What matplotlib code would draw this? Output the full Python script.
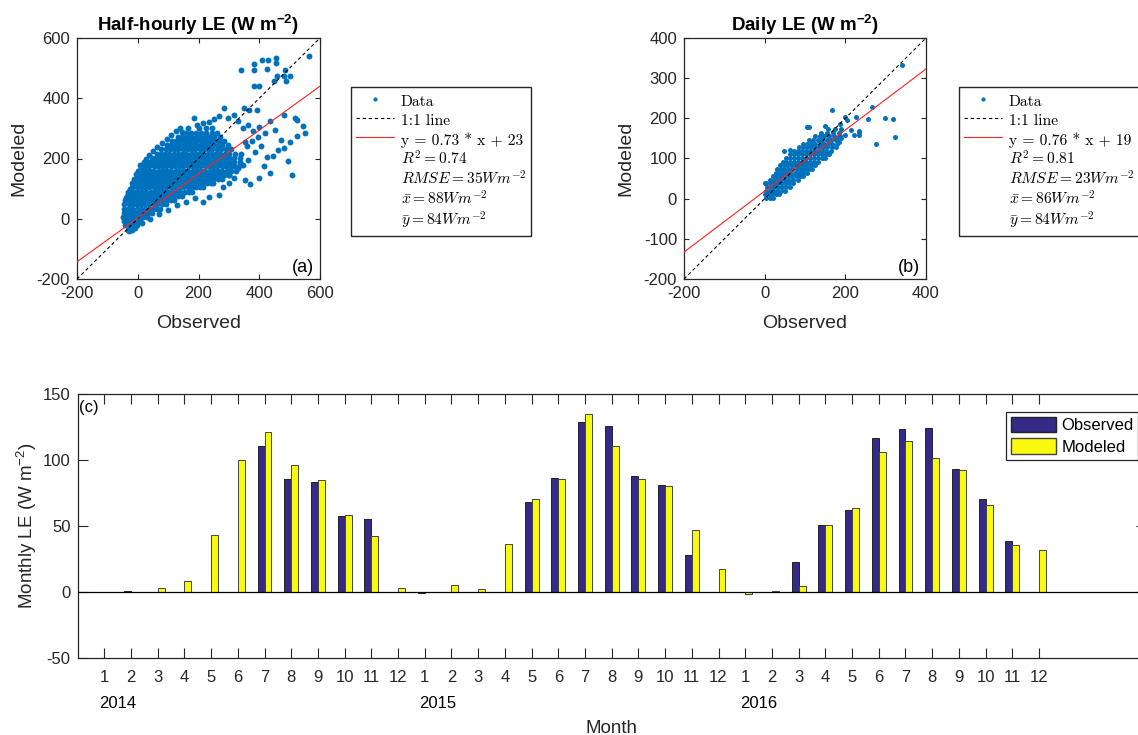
import numpy as np
import matplotlib as mpl

mpl.use("Agg")
import matplotlib.pyplot as plt
from matplotlib.lines import Line2D
from matplotlib.patches import Patch
from matplotlib.transforms import blended_transform_factory

INK = "#262626"
mpl.rcParams.update(
    {
        "font.family": ["Liberation Sans", "DejaVu Sans"],
        "mathtext.fontset": "custom",
        "mathtext.rm": "Liberation Sans",
        "mathtext.it": "Liberation Sans:italic",
        "mathtext.bf": "Liberation Sans:bold",
        "axes.unicode_minus": False,
        "axes.edgecolor": INK,
        "axes.labelcolor": INK,
        "xtick.color": INK,
        "ytick.color": INK,
        "axes.linewidth": 0.9,
    }
)

W, H = 1138, 735

# ---- (a) half-hourly LE: dense core as rows (modeled, [observed...])
hh_core = [
    (-36, [-31, -19]),
    (-22, [-42, -29, -16, -3]),
    (-8, [-46, -33, -20, -7, 6]),
    (6, [-47, -34, -21, -8, 5, 18, 29]),
    (20, [-46, -33, -19, -6, 8, 21, 34, 46]),
    (34, [-45, -32, -18, -4, 10, 23, 37, 50, 63, 72]),
    (48, [-44, -30, -17, -3, 11, 25, 38, 52, 65, 79, 92]),
    (62, [-41, -28, -14, 0, 13, 27, 41, 55, 68, 82, 96, 110, 120]),
    (76, [-35, -21, -8, 6, 20, 34, 47, 61, 75, 89, 103, 117, 131, 146]),
    (90, [-27, -13, 1, 15, 28, 42, 56, 70, 84, 98, 112, 126, 140, 154, 168, 180]),
    (104, [-18, -4, 10, 24, 38, 52, 66, 80, 94, 108, 122, 136, 150, 164, 178, 192, 205, 214]),
    (118, [-11, 3, 17, 31, 45, 59, 73, 87, 101, 115, 129, 143, 157, 171, 185, 199, 213, 227, 240, 248]),
    (132, [-3, 11, 25, 39, 53, 67, 81, 95, 109, 123, 137, 151, 165, 179, 193, 207, 221, 235, 249, 263, 276]),
    (146, [5, 19, 33, 47, 61, 75, 89, 103, 117, 131, 145, 159, 173, 187, 201, 215, 229, 243, 257, 271, 285, 300]),
    (160, [13, 27, 41, 55, 69, 83, 97, 111, 125, 139, 153, 167, 181, 195, 209, 223, 237, 251, 265, 279, 293, 307, 322]),
    (174, [24, 38, 52, 66, 80, 94, 108, 122, 136, 150, 164, 178, 192, 206, 220, 234, 248, 262, 276, 290, 304, 318, 334]),
    (188, [34, 48, 62, 76, 90, 104, 118, 132, 146, 160, 174, 188, 202, 216, 230, 244, 258, 272, 286, 300, 316, 338]),
    (202, [47, 61, 75, 89, 103, 117, 131, 145, 159, 173, 187, 201, 215, 229, 243, 257, 271, 285, 300, 318, 336]),
    (216, [62, 76, 90, 104, 118, 132, 146, 160, 174, 188, 202, 216, 230, 244, 258, 272, 286, 302, 320]),
    (230, [78, 92, 106, 120, 134, 148, 162, 176, 190, 204, 218, 232, 246, 260, 274, 290, 308]),
    (244, [95, 109, 123, 137, 151, 165, 179, 193, 207, 221, 235, 249, 263, 278, 296]),
    (258, [112, 126, 140, 154, 168, 182, 196, 210, 224, 238, 252, 268, 285]),
    (272, [131, 146, 161, 176, 191, 206, 221, 236, 252, 270]),
    (286, [158, 175, 192, 209, 226, 244, 262]),
    (300, [203, 224, 245]),
]
hh_obs_sparse = [
    -40, -33, -26, -20, -12, -5, 6, 0, 12, 20, 28, 38, 50, 64, 80, 96, 110, 125, 146, 140,
    165, 184, 195, 215, 235, 252, 268, 283, 298, 316, 330, 349, 365, 393, 345, 362, 378, 398,
    418, 437, 452, 481, 519, 472, 500, 524, 543, 552, 524, 494, 508, 481, 445, 434, 415, 398,
    371, 354, 299, 316, 266, 345, 362, 385, 405, 425, 462, 352, 375, 395, 340, 360, 330, 214,
    236, 280, 300, 190, 160, 130, 100, 70, 40, 15, -10, -28,
    340, 384, 384, 409, 428, 455, 455, 426, 486, 502, 481, 489, 459, 448, 399, 384, 565,
]
hh_mod_sparse = [
    70, 88, 100, 118, 132, 150, 177, 160, 168, 190, 200, 212, 225, 238, 252, 265, 278, 290, 287, 302,
    300, 334, 312, 318, 322, 330, 340, 368, 335, 346, 325, 368, 362, 362, 300, 310, 292, 305,
    285, 323, 296, 346, 335, 262, 255, 329, 307, 285, 274, 191, 144, 235, 207, 152, 174, 135,
    115, 130, 146, 135, 80, 180, 196, 222, 242, 205, 228, 255, 258, 270, 215, 240, 170, 56,
    72, 105, 120, 70, 55, 45, 28, 15, 0, -15, -30, -40,
    493, 514, 495, 528, 526, 534, 517, 498, 493, 475, 473, 458, 475, 458, 442, 440, 540,
]
hh_fit_x = [-200, 600]
hh_fit_y = [-143, 440]
hh_fit_label = "y = 0.73 * x + 23"
hh_stats = [r"$R^2 = 0.74$", r"$RMSE = 35Wm^{-2}$", r"$\bar{x} = 88Wm^{-2}$", r"$\bar{y} = 84Wm^{-2}$"]

# ---- (b) daily LE
dd_core = [
    (2, [3, 12, 21]),
    (11, [1, 10, 19, 28, 36]),
    (20, [3, 12, 21, 30, 40, 50]),
    (29, [6, 15, 24, 33, 43, 53, 62]),
    (38, [4, 13, 22, 31, 40, 50, 60, 70]),
    (47, [14, 23, 32, 41, 51, 61, 71, 82]),
    (56, [20, 29, 38, 47, 57, 67, 77, 87, 95]),
    (65, [27, 36, 45, 54, 64, 74, 84, 94, 104]),
    (74, [31, 40, 49, 59, 69, 79, 89, 99, 110, 118]),
    (83, [38, 47, 56, 66, 76, 86, 96, 106, 116, 126]),
    (92, [45, 54, 63, 73, 83, 93, 103, 113, 123, 133]),
    (101, [52, 62, 72, 82, 92, 102, 112, 122, 132, 142, 150]),
    (110, [62, 72, 82, 92, 102, 112, 122, 132, 142, 152, 160]),
    (119, [72, 82, 92, 102, 112, 122, 132, 142, 152, 164]),
    (128, [84, 94, 104, 114, 124, 134, 144, 154, 166, 176]),
    (137, [96, 106, 116, 126, 136, 146, 156, 168, 180]),
    (146, [110, 121, 132, 143, 154, 165, 178]),
    (155, [124, 136, 148, 160, 172, 186]),
    (164, [140, 155, 170, 185]),
    (173, [158, 174, 190]),
]
dd_obs_sparse = [341, 267, 257, 298, 317, 322, 275, 234, 234, 221, 213, 205, 226, 199, 188, 180,
                 166, 110, 106, 0, 64, 48, 150, 175, 190, 200, 185, 233]
dd_mod_sparse = [332, 227, 198, 201, 198, 154, 137, 168, 159, 159, 172, 197, 203, 203, 185, 150,
                 220, 178, 178, 39, 120, 118, 182, 150, 150, 158, 140, 165]
dd_fit_x = [-200, 400]
dd_fit_y = [-133, 323]
dd_fit_label = "y = 0.76 * x + 19"
dd_stats = [r"$R^2 = 0.81$", r"$RMSE = 23Wm^{-2}$", r"$\bar{x} = 86Wm^{-2}$", r"$\bar{y} = 84Wm^{-2}$"]

# ---- (c) monthly LE 2014-2016
years = ["2014", "2015", "2016"]
months = list(range(1, 13))
monthly_obs = [0, 0.5, 0, 0, 0, 0, 110.5, 85.7, 83.7, 57.8, 55.5, 0,
               -0.5, 0, 0, 0, 68.3, 86.4, 128.9, 125.6, 87.9, 81.4, 28.4, 0,
               0, 0, 22.4, 50.8, 62.3, 116.8, 123.4, 123.9, 93.2, 70.4, 39.0, 0]
monthly_mod = [0, 0, 2.8, 8.3, 43.5, 100, 121, 96, 85, 58, 42.2, 3,
               0, 5, 2.6, 36.7, 70.4, 85.4, 134.9, 110.8, 85.9, 80.4, 46.7, 17.3,
               -1.5, 1, 4.3, 50.6, 63.6, 105.8, 114.3, 101.5, 92.4, 65.9, 35.7, 31.6]

BLUE = "#0072BD"
NAVY = "#352A87"
YELLOW = "#F9FB0E"


def rows_to_xy(rows):
    xs, ys = [], []
    for y, row in rows:
        xs.extend(row)
        ys.extend([y] * len(row))
    return np.array(xs, float), np.array(ys, float)


def fig_rect(left, top, right, bottom):
    return [left / W, 1 - bottom / H, (right - left) / W, (bottom - top) / H]


def scatter_panel(fig, rect, core, obs_sp, mod_sp, fit_x, fit_y, lim, xticks, yticks, title,
                  tag, fit_label, stats, leg_xy, msize):
    ax = fig.add_axes(rect)
    cx, cy = rows_to_xy(core)
    ox = np.concatenate([cx, obs_sp])
    oy = np.concatenate([cy, mod_sp])
    ax.scatter(ox, oy, s=msize, color=BLUE, linewidths=0, zorder=2)
    ax.plot(lim, lim, ls=(0, (3, 2.5)), color="k", lw=0.8, zorder=3)
    ax.plot(fit_x, fit_y, color="#FF2020", lw=0.8, zorder=3)
    ax.set_xlim(lim)
    ax.set_ylim(lim)
    ax.set_xticks(xticks)
    ax.set_yticks(yticks)
    ax.tick_params(direction="in", length=3.5, top=True, right=True, labelsize=12, pad=5)
    ax.set_xlabel("Observed", fontsize=14, labelpad=10)
    ax.set_ylabel("Modeled", fontsize=14, labelpad=6.5)
    ax.set_title(title, fontsize=13.5, fontweight="bold", color="k", pad=5)
    ax.text(0.975, 0.048, tag, transform=ax.transAxes, ha="right", va="center", fontsize=13)

    handles = [
        Line2D([], [], ls="none", marker=".", ms=4, color=BLUE),
        Line2D([], [], ls=(0, (3, 2.5)), color="k", lw=0.8),
        Line2D([], [], color="#FF2020", lw=0.8),
    ] + [Line2D([], [], ls="none") for _ in stats]
    labels = ["Data", "1:1 line", fit_label] + stats
    leg = fig.legend(handles, labels, loc="upper left",
                     bbox_to_anchor=(leg_xy[0] / W, 1 - leg_xy[1] / H), borderaxespad=0,
                     fancybox=False, edgecolor=INK, framealpha=1, fontsize=11.2,
                     handlelength=2.45, handleheight=1.45, handletextpad=0.45,
                     labelspacing=0.05, borderpad=0.3)
    leg.get_frame().set_linewidth(1.0)
    for i, t in enumerate(leg.get_texts()):
        if i < 3:
            t.set_fontfamily("cmr10")
        else:
            t.set_math_fontfamily("cm")
    return ax


fig = plt.figure(figsize=(W / 100, H / 100), dpi=100, facecolor="white")

scatter_panel(fig, fig_rect(77, 38, 320, 279), hh_core, hh_obs_sparse, hh_mod_sparse,
              hh_fit_x, hh_fit_y, [-200, 600], [-200, 0, 200, 400, 600],
              [-200, 0, 200, 400, 600],
              r"Half-hourly LE (W m$^{\mathbf{-2}}$)", "(a)", hh_fit_label, hh_stats, (351, 87), 18)
scatter_panel(fig, fig_rect(684, 38, 926, 279), dd_core, dd_obs_sparse, dd_mod_sparse,
              dd_fit_x, dd_fit_y, [-200, 400], [-200, 0, 200, 400],
              [-200, -100, 0, 100, 200, 300, 400],
              r"Daily LE (W m$^{\mathbf{-2}}$)", "(b)", dd_fit_label, dd_stats, (959, 87), 13)

# ---- monthly bars
ax = fig.add_axes(fig_rect(77.6, 394, 1145.8, 658))
pos = np.arange(1, len(monthly_obs) + 1)
bw = 0.26
ax.bar(pos - bw / 2, monthly_obs, width=bw, color=NAVY, edgecolor="#222222", lw=0.7,
       label="Observed", zorder=2)
ax.bar(pos + bw / 2, monthly_mod, width=bw, color=YELLOW, edgecolor="#444444", lw=0.7,
       label="Modeled", zorder=2)
ax.axhline(0, color="k", lw=0.9, zorder=3)
ax.set_xlim(0, 40)
ax.set_ylim(-50, 150)
ax.set_xticks(pos)
ax.set_xticklabels([str(m) for _ in years for m in months])
ax.set_yticks([-50, 0, 50, 100, 150])
ax.tick_params(direction="in", length=7.5, top=True, right=True, labelsize=12)
ax.tick_params(axis="x", pad=9)
ax.tick_params(axis="y", pad=5)
ax.set_ylabel(r"Monthly LE (W m$^{-2}$)", fontsize=13.5, labelpad=3)
ax.set_xlabel("Month", fontsize=13.5, labelpad=25)
tr = blended_transform_factory(ax.transData, ax.transAxes)
for i, yr in enumerate(years):
    ax.text(1.5 + 12 * i, -0.172, yr, transform=tr, ha="center", va="center", fontsize=12)
ax.text(0.001, 0.947, "(c)", transform=ax.transAxes, ha="left", va="center", fontsize=12)
leg = ax.legend(handles=[Patch(facecolor=NAVY, edgecolor="#222222"),
                         Patch(facecolor=YELLOW, edgecolor="#444444")],
                labels=["Observed", "Modeled"], loc="upper left",
                bbox_to_anchor=((1006 - 77.6) / 1068, (658 - 412) / 264), borderaxespad=0,
                fancybox=False, edgecolor=INK, framealpha=1, fontsize=12,
                handlelength=2.7, handleheight=1.05, handletextpad=0.3, labelspacing=0.3,
                borderpad=0.3)
leg.get_frame().set_linewidth(0.9)

fig.savefig("out.png", dpi=100, facecolor="white")
